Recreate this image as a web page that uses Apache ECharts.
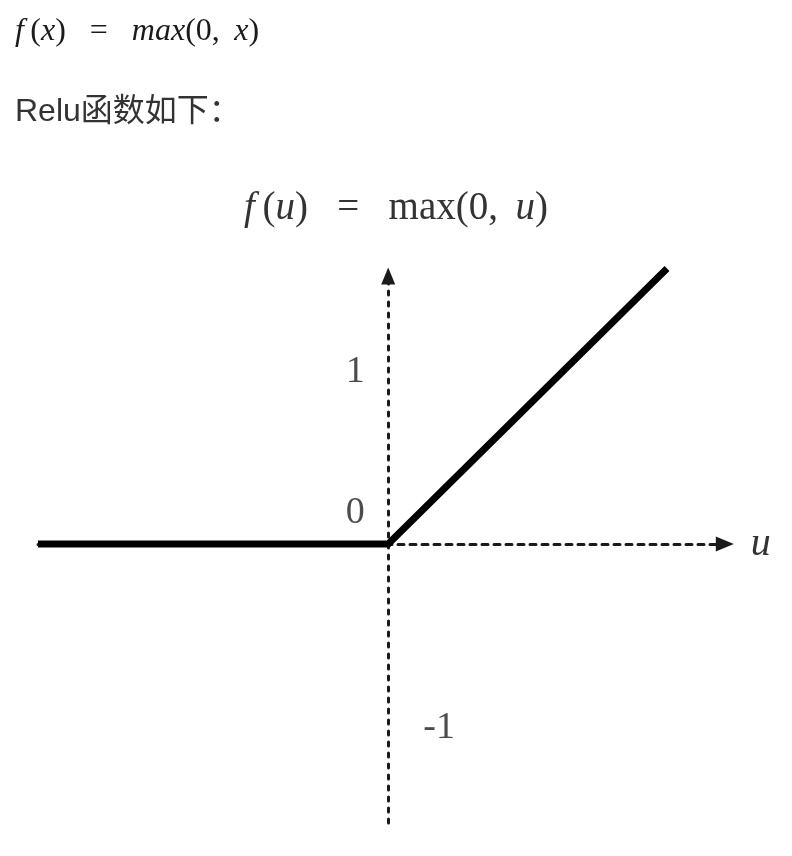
<!DOCTYPE html>
<html>
<head>
<meta charset="utf-8">
<script src="https://cdn.jsdelivr.net/npm/echarts@6/dist/echarts.min.js"></script>
<style>
html,body{margin:0;padding:0;background:#fff;}
#chart{width:792px;height:856px;}
</style>
</head>
<body>
<div id="chart"></div>
<script>
// ReLU curve points (u, f(u))
const reluU = [-2.06, 0, 1.64];
const reluF = [0, 0, 1.64];
// y tick values and their labels
const tickValues = [1, 0, -1];
const tickLabels = ['1', '0', '-1'];
// axis ranges
const uRange = [-2.06, 1.98];
const fRange = [-1.66, 1.595];
const axisName = 'u';
const headingText = 'Relu函数如下：';

const labelOffsets = [[-33, -4], [-33, -31], [51, 16]];

const chart = echarts.init(document.getElementById('chart'), null, {renderer: 'canvas'});
const serif = "'Liberation Serif','DejaVu Serif',serif";
function rich(size, color) {
  return {
    i: {fontFamily: serif, fontStyle: 'italic', fontWeight: 'normal', fontSize: size, color: color},
    r: {fontFamily: serif, fontStyle: 'normal', fontWeight: 'normal', fontSize: size, color: color}
  };
}

const option = {
  backgroundColor: '#fff',
  animation: false,
  title: [
    {
      left: 15, top: 12, padding: 0,
      text: '{i|f}{r|\u2009(}{i|x}{r|)   =   }{i|max}{r|(0,\u2009 }{i|x}{r|)}',
      textStyle: {fontSize: 32, fontWeight: 'normal', lineHeight: 40, rich: rich(32, '#1a1a1a')}
    },
    {
      left: 15, top: 93, padding: 0,
      text: headingText,
      textStyle: {fontSize: 32, lineHeight: 38, color: '#333', fontWeight: 'normal',
        fontFamily: "'Liberation Sans','Noto Sans CJK SC',sans-serif"}
    },
    {
      left: 'center', top: 185, padding: 0,
      text: '{i|f}{r|\u2009(}{i|u}{r|)   =   max(0,\u2009 }{i|u}{r|)}',
      textStyle: {fontSize: 39, fontWeight: 'normal', lineHeight: 48, rich: rich(39, '#333')}
    }
  ],
  grid: {left: 38, right: 67.2, top: 276, bottom: 33, containLabel: false},
  xAxis: {
    type: 'value', min: uRange[0], max: uRange[1],
    name: axisName, nameLocation: 'end', nameGap: 26,
    nameTextStyle: {fontFamily: serif, fontStyle: 'italic', fontSize: 40, color: '#333', verticalAlign: 'middle'},
    axisLine: {show: true, onZero: true, symbol: ['none', 'triangle'], symbolSize: [15, 18],
      lineStyle: {color: '#1a1a1a', width: 3, type: [6, 6]}},
    axisTick: {show: false}, axisLabel: {show: false}, splitLine: {show: false}
  },
  yAxis: {
    type: 'value', min: fRange[0], max: fRange[1],
    axisLine: {show: true, onZero: true, symbol: ['none', 'triangle'], symbolSize: [14, 17],
      lineStyle: {color: '#1a1a1a', width: 3, type: [4, 7]}},
    axisTick: {show: false}, axisLabel: {show: false}, splitLine: {show: false}
  },
  series: [
    {
      type: 'line', name: 'relu',
      data: reluU.map((u, i) => [u, reluF[i]]),
      symbol: 'none', clip: false, silent: true, z: 5,
      lineStyle: {color: '#000', width: 7, cap: 'butt', join: 'miter'}
    },
    {
      type: 'scatter', name: 'ticks', symbolSize: 0, silent: true, z: 6,
      data: tickValues.map((v, i) => ({
        value: [0, v],
        label: {show: true, position: 'inside', offset: labelOffsets[i],
          formatter: tickLabels[i], fontFamily: serif, fontSize: 38, color: '#1f1f1f'}
      }))
    }
  ]
};
chart.setOption(option);
</script>
</body>
</html>
